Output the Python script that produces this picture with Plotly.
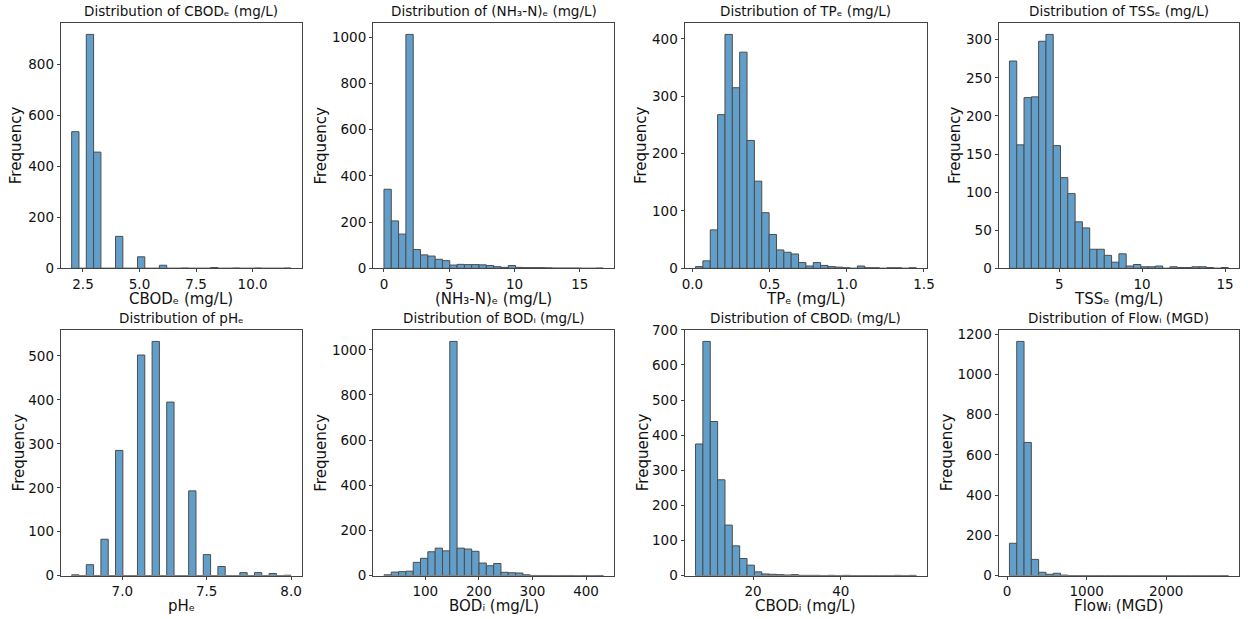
import numpy as np
import plotly.graph_objects as go

# ---------------- data (histogram counts, 30 bins each) ----------------
titles = ["Distribution of CBODₑ (mg/L)", "Distribution of (NH₃-N)ₑ (mg/L)",
          "Distribution of TPₑ (mg/L)", "Distribution of TSSₑ (mg/L)",
          "Distribution of pHₑ", "Distribution of BODᵢ (mg/L)",
          "Distribution of CBODᵢ (mg/L)", "Distribution of Flowᵢ (MGD)"]
xlabels = ["CBODₑ (mg/L)", "(NH₃-N)ₑ (mg/L)", "TPₑ (mg/L)", "TSSₑ (mg/L)",
           "pHₑ", "BODᵢ (mg/L)", "CBODᵢ (mg/L)", "Flowᵢ (MGD)"]

data_min = [2.0, 0.0, 0.02, 2.0, 6.7, 22.8, 6.9, 29.0]
data_max = [11.7, 16.8, 1.45, 15.2, 8.0, 432.3, 57.2, 2782.0]

cbod_e = [535, 0, 916, 455, 0, 0, 125, 0, 0, 45, 0, 0, 12, 0, 0, 1, 0, 0, 0, 3,
          0, 0, 1, 0, 0, 1, 0, 0, 0, 1]
nh3_e = [342, 205, 148, 1012, 81, 58, 53, 39, 33, 14, 17, 16, 16, 15, 12, 7, 4, 12, 4, 3,
         3, 3, 2, 1, 1, 1, 1, 0, 0, 1]
tp_e = [3, 13, 67, 268, 408, 315, 377, 223, 152, 97, 59, 32, 28, 25, 10, 4, 10, 5, 3, 2,
        1, 0, 4, 1, 1, 0, 1, 1, 0, 1]
tss_e = [272, 162, 224, 225, 298, 307, 161, 119, 98, 61, 53, 25, 25, 17, 8, 19, 3, 5, 2, 2,
         3, 0, 2, 1, 1, 2, 2, 1, 0, 1]
ph_e = [2, 0, 25, 0, 83, 0, 285, 0, 0, 502, 0, 533, 0, 395, 0, 0, 193, 0, 48, 0,
        21, 0, 0, 7, 0, 7, 0, 5, 0, 1]
bod_i = [4, 16, 18, 20, 59, 77, 106, 122, 110, 1037, 122, 118, 108, 56, 44, 54, 15, 13, 12, 4,
         1, 1, 1, 0, 1, 1, 0, 1, 0, 1]
cbod_i = [375, 667, 439, 273, 144, 85, 49, 30, 11, 5, 4, 3, 2, 3, 1, 1, 1, 0, 1, 0,
          1, 0, 0, 0, 0, 0, 0, 1, 0, 1]
flow_i = [161, 1164, 662, 81, 17, 7, 12, 3, 1, 1, 1, 0, 1, 0, 0, 0, 0, 0, 0, 0,
          0, 0, 0, 0, 0, 0, 0, 0, 0, 1]

counts = [cbod_e, nh3_e, tp_e, tss_e, ph_e, bod_i, cbod_i, flow_i]

x_dtick = [2.5, 5, 0.5, 5, 0.5, 100, 20, 1000]
x_fmt = [".1f", "", ".1f", "", ".1f", "", "", ""]
y_dtick = [200, 200, 100, 50, 100, 200, 100, 200]
ylab_shift = [44, 52, 43, 43, 42, 52, 42, 52]

# ---------------- layout geometry ----------------
W, H = 1248, 619
col_px = [(60.7, 302.0), (373.0, 614.3), (684.5, 927.3), (998.5, 1239.3)]
row_px = [(22.7, 268.3), (329.7, 575.7)]

FONT = "DejaVu Sans"
BAR = "#1f77b4"
AX = "#444444"

fig = go.Figure()
layout = dict(width=W, height=H, margin=dict(l=0, r=0, t=0, b=0),
              paper_bgcolor="white", plot_bgcolor="white", showlegend=False,
              font=dict(family=FONT, color="#111111"), annotations=[])

for i in range(8):
    r, c = divmod(i, 4)
    n = i + 1
    xa = "x" if n == 1 else f"x{n}"
    ya = "y" if n == 1 else f"y{n}"
    lo, hi = data_min[i], data_max[i]
    nb = len(counts[i])
    edges = np.linspace(lo, hi, nb + 1)
    bw = edges[1] - edges[0]
    fig.add_trace(go.Bar(x=edges[:-1], y=counts[i], width=bw, offset=0,
                         marker=dict(color=BAR, line=dict(color="black", width=1)),
                         opacity=0.7, xaxis=xa, yaxis=ya, hoverinfo="x+y"))
    R = hi - lo
    x0 = col_px[c][0] / W
    x1 = col_px[c][1] / W
    y1 = 1 - row_px[r][0] / H
    y0 = 1 - row_px[r][1] / H
    common = dict(showgrid=False, zeroline=False, showline=True, mirror=True,
                  linecolor=AX, linewidth=1, ticks="outside", ticklen=3,
                  tickwidth=1, tickcolor=AX,
                  tickfont=dict(family=FONT, size=13.5, color="#111"),
                  automargin=False, tickmode="linear", tick0=0)
    xkey = "xaxis" if n == 1 else f"xaxis{n}"
    ykey = "yaxis" if n == 1 else f"yaxis{n}"
    layout[xkey] = dict(common, domain=[x0, x1], anchor=ya,
                        range=[lo - 0.05 * R, hi + 0.05 * R],
                        dtick=x_dtick[i], tickformat=x_fmt[i])
    layout[ykey] = dict(common, domain=[y0, y1], anchor=xa,
                        range=[0, 1.05 * max(counts[i])], dtick=y_dtick[i])
    xc = (x0 + x1) / 2
    yc = (y0 + y1) / 2
    layout["annotations"] += [
        dict(text=titles[i], x=xc, y=y1, xref="paper", yref="paper",
             xanchor="center", yanchor="bottom", yshift=2, showarrow=False,
             font=dict(family=FONT, size=13.5, color="#111")),
        dict(text=xlabels[i], x=xc, y=y0, xref="paper", yref="paper",
             xanchor="center", yanchor="middle", yshift=-30.5, showarrow=False,
             font=dict(family=FONT, size=15, color="#111")),
        dict(text="Frequency", x=x0, y=yc, xref="paper", yref="paper",
             xanchor="center", yanchor="middle", xshift=-ylab_shift[i],
             textangle=-90, showarrow=False,
             font=dict(family=FONT, size=15, color="#111")),
    ]

fig.update_layout(**layout)
fig.write_html("out.html")
